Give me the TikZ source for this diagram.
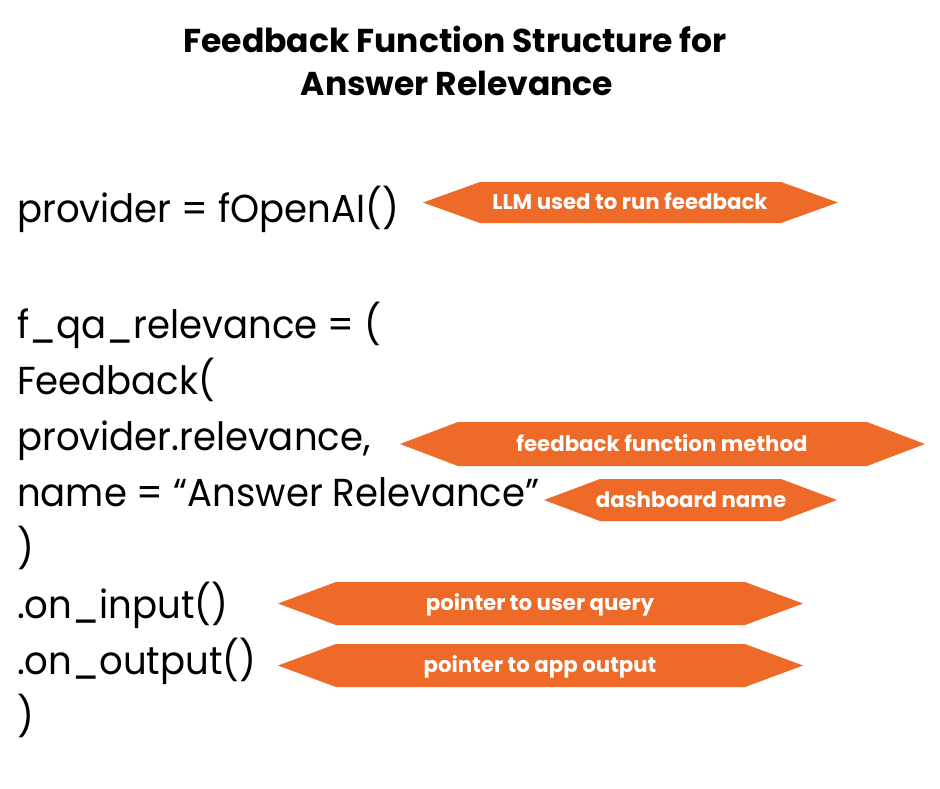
\documentclass[tikz,border=0pt]{standalone}
\usepackage{fontspec}
\setmainfont{Poppins}
\newfontfamily\codefont{Poppins}[FakeStretch=0.95]
\newfontfamily\titlefont{Poppins}[UprightFont=* Bold]
\definecolor{tagorange}{RGB}{238,106,40}
\tikzset{
  codeline/.style={anchor=base west, inner sep=0pt, font=\codefont\fontsize{39}{46}\selectfont},
  titleline/.style={anchor=base, inner sep=0pt, font=\titlefont\fontsize{33}{40}\selectfont},
  tagtext/.style={anchor=base, inner sep=0pt, text=white, font=\titlefont\fontsize{21.3}{25}\selectfont},
  tagfill/.style={fill=tagorange}
}
% #1 left tip x, #2 right tip x, #3 top y, #4 bottom y, #5 head length
\newcommand\tagshape[5]{%
  \fill[tagfill] (#1,{(#3+#4)/2}) -- (#1+#5,#3) -- (#2-#5,#3) -- (#2,{(#3+#4)/2})
    -- (#2-#5,#4) -- (#1+#5,#4) -- cycle;}
\begin{document}
\begin{tikzpicture}[x=1pt,y=-1pt]
\useasboundingbox[fill=white] (0,0) rectangle (940,788);
% title
\node[titleline] (title1) at (455,52) {Feedback Function Structure for};
\node[titleline] (title2) at (457,95) {Answer Relevance};
% code
\node[codeline] (c1) at (17,222) {provider = fOpenAI()};
\node[codeline] (c2) at (17,338) {f\_qa\_relevance = (};
\node[codeline] (c3) at (17,394) {Feedback(};
\node[codeline] (c4) at (17,450) {provider.relevance,};
\node[codeline] (c5) at (17,506) {name = “Answer Relevance”};
\node[codeline] (c6) at (17,562) {)};
\node[codeline] (c7) at (17,618) {.on\_input()};
\node[codeline] (c8) at (17,674) {.on\_output()};
\node[codeline] (c9) at (17,730) {)};
% tags
\tagshape{423}{838}{182}{223}{57}
\node[tagtext] (t1) at (630,209) {LLM used to run feedback};
\tagshape{400}{925}{422}{466}{58}
\node[tagtext] (t2) at (662,451) {feedback function method};
\tagshape{544}{837}{479}{521}{56}
\node[tagtext] (t3) at (691,507) {dashboard name};
\tagshape{278}{803}{582}{625}{58}
\node[tagtext] (t4) at (540,610) {pointer to user query};
\tagshape{278}{803}{644}{687}{58}
\node[tagtext] (t5) at (540,672) {pointer to app output};
\end{tikzpicture}
\end{document}
